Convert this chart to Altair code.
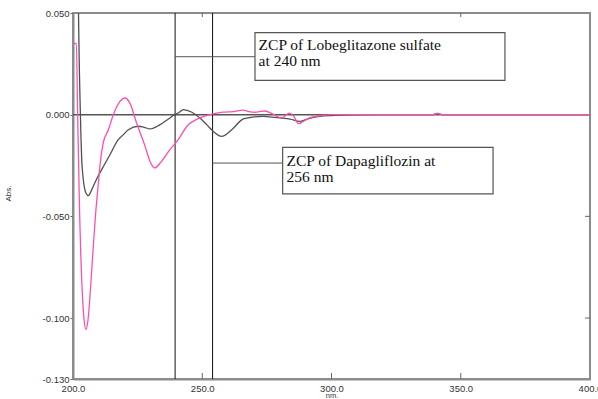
import altair as alt
import pandas as pd

# Derivative spectrum of Lobeglitazone sulfate (black/grey)
wl_lobe = [200, 201.5, 202.5, 203.5, 205, 206, 207.2, 209.2, 211.1, 214.3, 217.5, 219.5, 221.4,
           225.3, 227.5, 229.8, 233.7, 237.5, 239.2, 240.7, 242.7, 246, 249.1, 251.7, 254.5, 257.5,
           261.4, 265.9, 269.5, 273.6, 277, 280, 284, 287.8, 291.5, 295.5, 300, 310, 320, 339,
           341, 343, 360, 380, 400]
abs_lobe = [0.09, 0.09, 0.02, -0.025, -0.0385, -0.0398, -0.037, -0.0315, -0.027, -0.0197, -0.0123,
            -0.0098, -0.0074, -0.0057, -0.0062, -0.007, -0.0049, -0.0016, 0.0, 0.0008, 0.0025,
            0.0012, -0.0016, -0.0049, -0.0085, -0.0107, -0.0074, -0.0021, -0.0012, -0.0008, -0.0012,
            -0.0016, -0.0022, -0.0033, -0.0018, -0.0008, -0.0004, -0.0001, 0.0, 0.0, 0.0006, 0.0,
            0.0, 0.0, 0.0]

# Derivative spectrum of Dapagliflozin (pink)
wl_dapa = [200, 201.3, 201.8, 202.5, 203.5, 204.3, 205, 205.8, 206.8, 208, 208.8, 209.8, 210.7,
           211.7, 213.7, 215.6, 218.2, 220.1, 222, 224.6, 227.9, 229.8, 231.7, 233.7, 237.5, 240.7,
           244, 249.1, 253, 258, 262, 265.8, 268, 270.4, 272.5, 274.3, 277, 280.7, 283.7, 285.5,
           287.2, 289.5, 291.7, 296, 300.6, 320, 339, 341, 343, 360, 380, 400]
abs_dapa = [0.035, 0.035, 0.0, -0.045, -0.085, -0.101, -0.1057, -0.101, -0.085, -0.062, -0.048,
            -0.034, -0.022, -0.0139, -0.0074, 0.0, 0.0065, 0.0082, 0.0057, -0.0041, -0.0156, -0.023,
            -0.0262, -0.0238, -0.0172, -0.0123, -0.0058, -0.0016, 0.0, 0.0012, 0.0015, 0.0022,
            0.0015, 0.0012, 0.0016, 0.0018, 0.0005, -0.0016, 0.0008, -0.001, -0.0044, -0.003,
            -0.0015, -0.0004, 0.0, 0.0, 0.0, 0.0006, 0.0, 0.0, 0.0, 0.0]

x_ticks = [200, 250, 300, 350, 400]
y_ticks = [0.05, 0.0, -0.05, -0.1, -0.13]
zcp_lines = [239.5, 254]

# annotation boxes (data coordinates)
box_x = [270.4, 281.1]
box_x2 = [367.1, 362.5]
box_y = [0.0403, -0.0161]
box_y2 = [0.0169, -0.0390]
conn_x = [239.5, 254]
conn_x2 = [270.4, 281.1]
conn_y = [0.0285, -0.0238]
text_x = [271.8, 271.8, 282.6, 282.6]
text_y = [0.0317, 0.0238, -0.0250, -0.0329]
text_lines = ["ZCP of Lobeglitazone sulfate", "at 240 nm", "ZCP of Dapagliflozin at", "256 nm"]

df = pd.concat([
    pd.DataFrame({"wl": wl_lobe, "abs": abs_lobe, "s": "Lobeglitazone"}),
    pd.DataFrame({"wl": wl_dapa, "abs": abs_dapa, "s": "Dapagliflozin"}),
])
boxes = pd.DataFrame({"x": box_x, "x2": box_x2, "y": box_y, "y2": box_y2})
conns = pd.DataFrame({"x": conn_x, "x2": conn_x2, "y": conn_y})
texts = pd.DataFrame({"x": text_x, "y": text_y, "t": text_lines})

W, H = 517, 366
xs = alt.Scale(domain=[200, 400], nice=False, zero=False)
ys = alt.Scale(domain=[-0.13, 0.05], nice=False, zero=False)

base_x = alt.X("wl:Q", scale=xs, axis=alt.Axis(
    values=x_ticks, format=".1f", title="nm.", ticks=False, labelPadding=4,
    labelFontSize=9.5, labelColor="#333", titleFontSize=7.5, titleFontWeight="normal",
    titleColor="#333", titlePadding=-1.5, domainColor="#8c8c8c", domainWidth=2, grid=False,
    labelFlush=False))
base_y = alt.Y("abs:Q", scale=ys, axis=alt.Axis(
    values=y_ticks, labelExpr="replace(format(datum.value, '.3f'), '\u2212', '-')",
    title="Abs.", tickSize=3, tickColor="#666", labelPadding=1, labelFontSize=9.5,
    labelColor="#333", titleFontSize=8, titleFontWeight="normal", titleColor="#333",
    titleX=-61, titleY=180, domainColor="#8c8c8c", domainWidth=2, grid=False))

lines = alt.Chart(df).mark_line(interpolate="monotone", strokeWidth=1.3, clip=True).encode(
    x=base_x, y=base_y,
    color=alt.Color("s:N", scale=alt.Scale(domain=["Lobeglitazone", "Dapagliflozin"],
                                           range=["#505050", "#ff4fae"]), legend=None),
    order=alt.Order("s:N", sort="descending"),
)

zero_rule = alt.Chart(pd.DataFrame({"y": [0.0]})).mark_rule(color="#555", strokeWidth=1.5).encode(
    y=alt.Y("y:Q", scale=ys))

vrules = alt.Chart(pd.DataFrame({"x": zcp_lines})).mark_rule(color="#111", strokeWidth=1).encode(
    x=alt.X("x:Q", scale=xs))

conn_rules = alt.Chart(conns).mark_rule(color="#555", strokeWidth=1).encode(
    x=alt.X("x:Q", scale=xs), x2="x2:Q", y=alt.Y("y:Q", scale=ys))

rects = alt.Chart(boxes).mark_rect(fill="white", stroke="#555", strokeWidth=1.2).encode(
    x=alt.X("x:Q", scale=xs), x2="x2:Q", y=alt.Y("y:Q", scale=ys), y2="y2:Q")

labels = alt.Chart(texts).mark_text(align="left", baseline="alphabetic", font="Liberation Serif",
                                    fontSize=15.5, color="#111").encode(
    x=alt.X("x:Q", scale=xs), y=alt.Y("y:Q", scale=ys), text="t:N")

# inward ticks on bottom/top/right frame
bottom_ticks = alt.Chart(pd.DataFrame({"x": x_ticks[1:4]})).mark_rule(color="#666").encode(
    x=alt.X("x:Q", scale=xs), y=alt.value(H - 6), y2=alt.value(H))
top_ticks = alt.Chart(pd.DataFrame({"x": [x_ticks[1], x_ticks[3]]})).mark_rule(color="#666").encode(
    x=alt.X("x:Q", scale=xs), y=alt.value(0), y2=alt.value(4))
right_ticks = alt.Chart(pd.DataFrame({"y": [y_ticks[2], y_ticks[3]]})).mark_rule(color="#666").encode(
    y=alt.Y("y:Q", scale=ys), x=alt.value(W - 5), x2=alt.value(W))

chart = alt.layer(
    zero_rule, vrules, conn_rules, rects, labels, lines, bottom_ticks, top_ticks, right_ticks
).properties(
    width=W, height=H,
    autosize=alt.AutoSizeParams(type="none"),
    padding={"left": 73, "top": 13, "right": 8, "bottom": 20},
    background="white",
).configure_view(stroke="#8c8c8c", strokeWidth=2).configure_axis(labelFont="Liberation Sans",
                                                                  titleFont="Liberation Sans")

chart.save("out.html", embed_options={"renderer": "svg", "actions": False})
